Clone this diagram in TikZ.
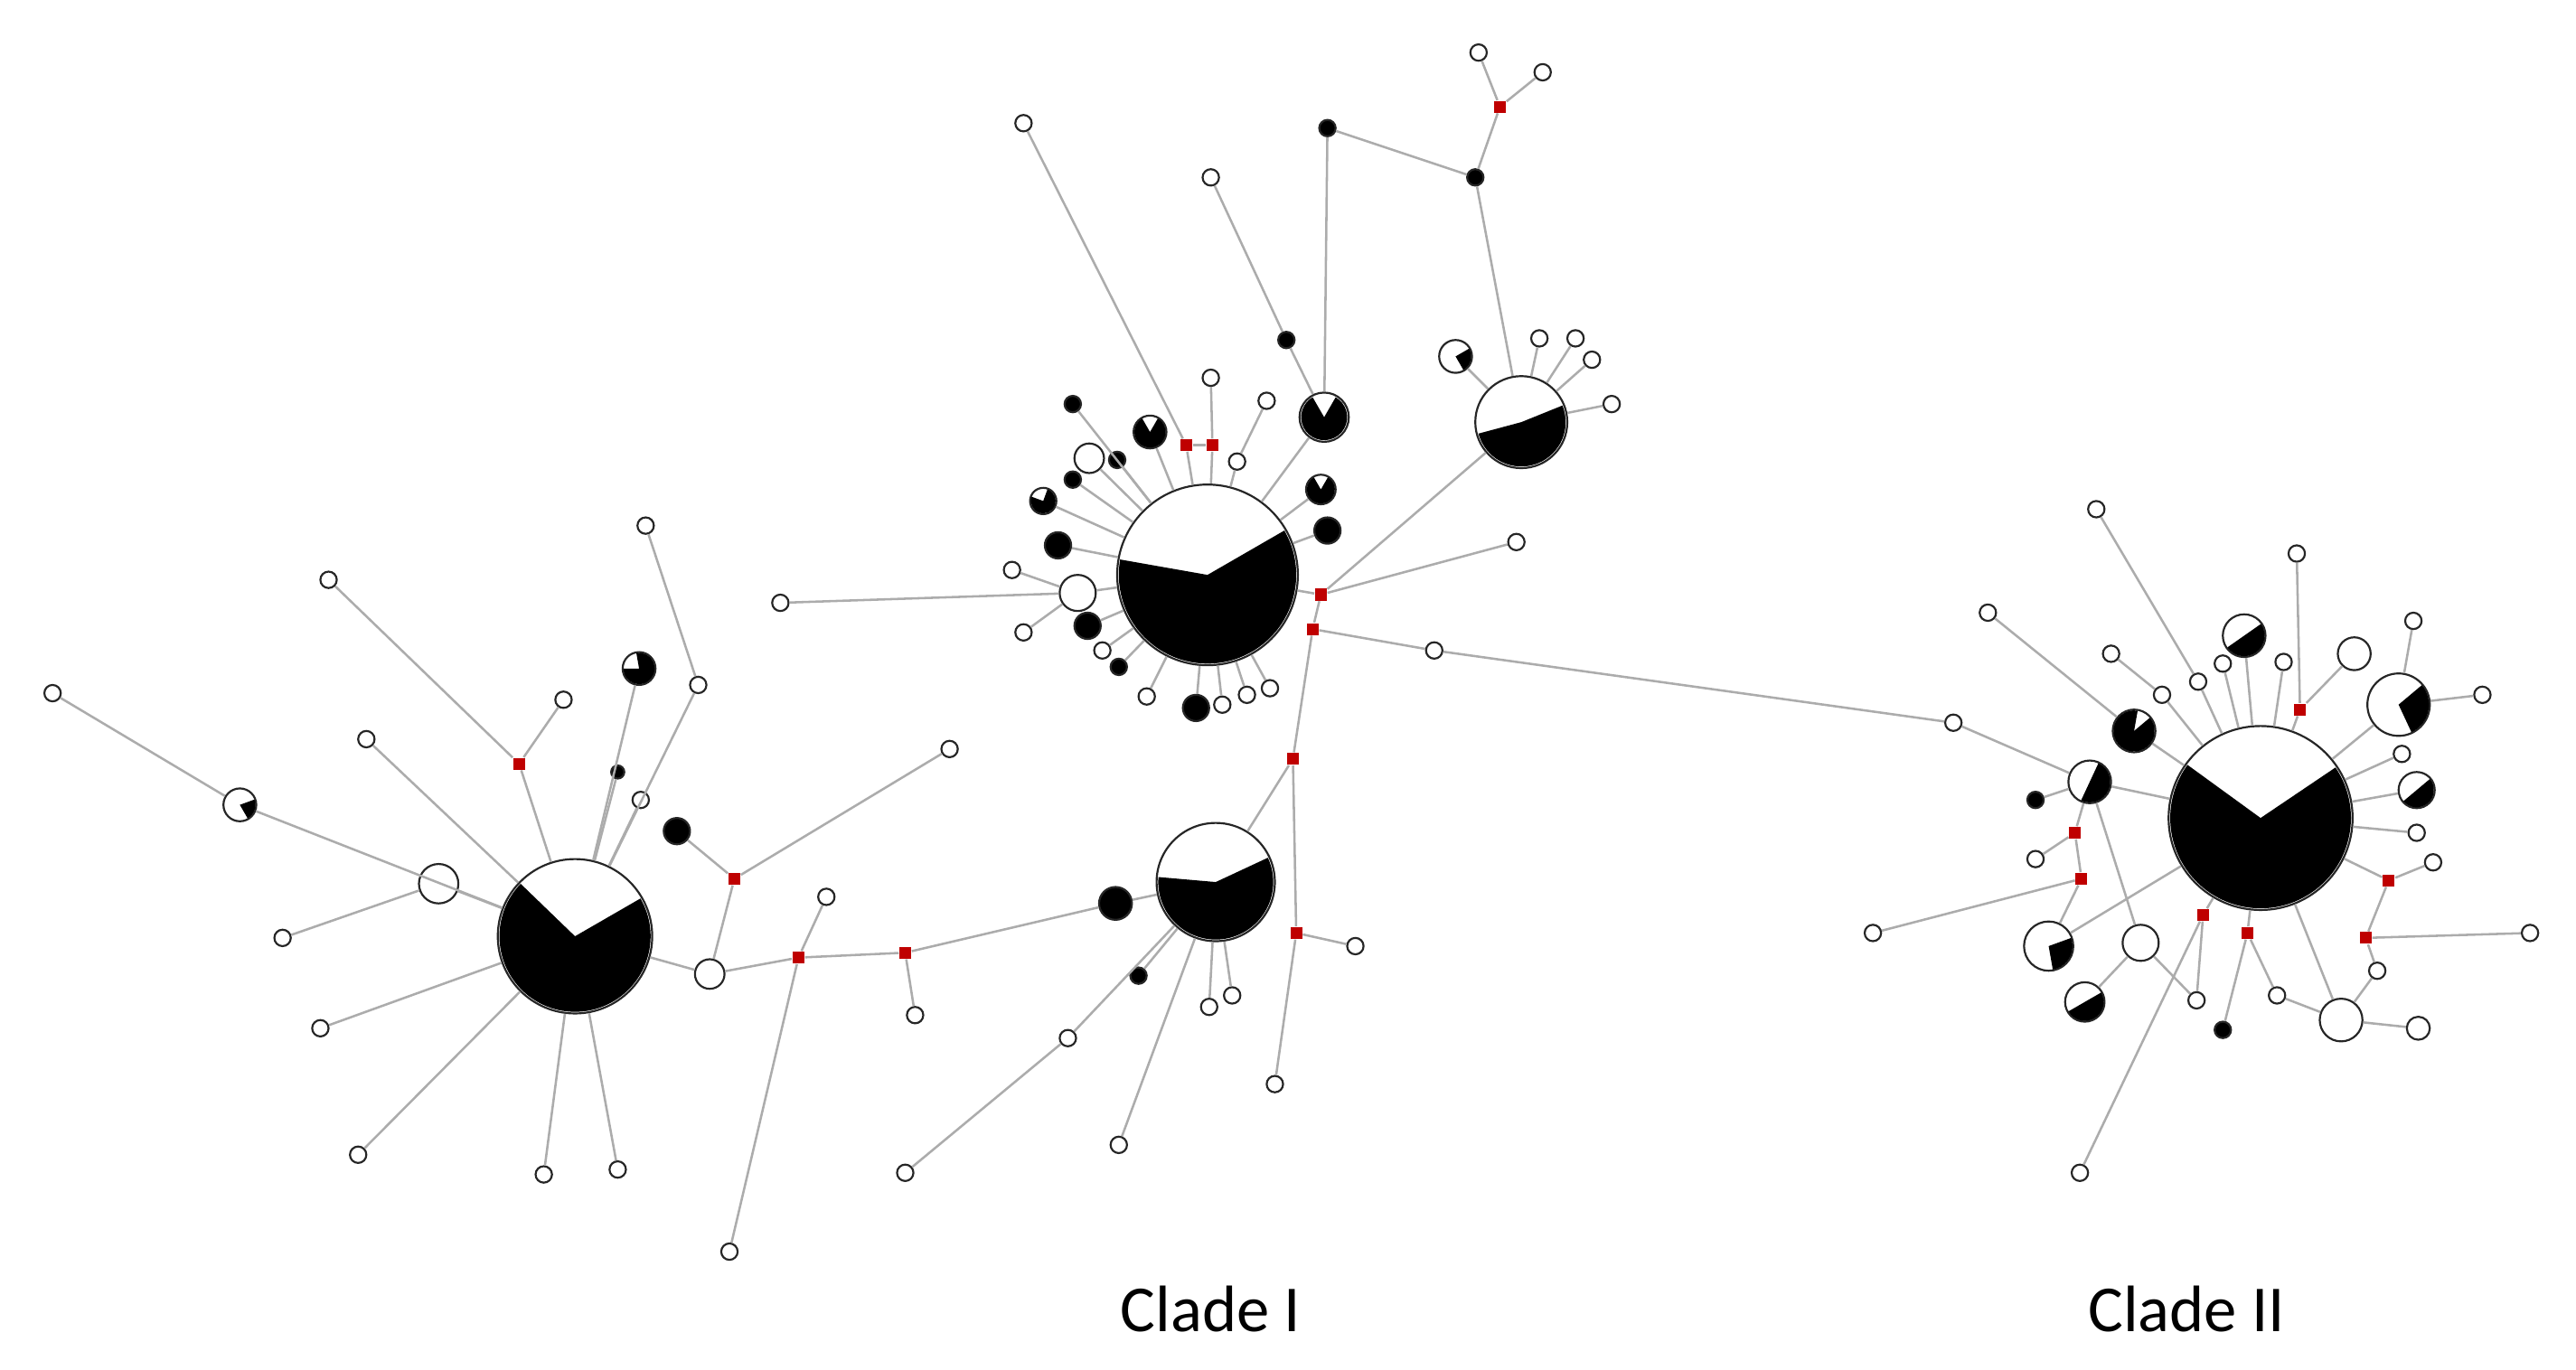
\documentclass[tikz,border=0pt]{standalone}
\usepackage{fontspec}
\setmainfont{Carlito}
\usetikzlibrary{positioning}

% black sector of a haplotype pie, clockwise from angle #2 to #3
\newcommand\hpie[4]{\fill (#1.center) -- ++(-#2:#4) arc[start angle=-#2, end angle=-#3, radius=#4] -- cycle;}

\begin{document}
\begin{tikzpicture}[x=0.5pt, y=-0.5pt,
 hap/.style  = {circle, draw=black!85, line width=0.6pt, fill=white, inner sep=0pt, minimum size=5pt},
 bhap/.style = {hap, fill=black},
 med/.style  = {rectangle, fill=red!75!black, inner sep=0pt, minimum size=3.6pt},
 edge/.style = {draw=gray!65, line width=0.7pt},
 clade/.style = {font=\fontsize{20}{24}\selectfont},
                        ]
    \useasboundingbox (0,0) rectangle (1568,834);

    % left part of clade I
    \node [hap, minimum size=47pt]   (l0)  at (350,570) {};
    \node [hap, minimum size=10pt]   (l1)  at (146,490) {};
    \node [hap]                      (l1t) at (32,422)  {};
    \node [med]                      (lr1) at (316,465) {};
    \node [hap]                      (l2)  at (200,353) {};
    \node [hap]                      (l3)  at (343,426) {};
    \node [hap]                      (l4)  at (223,450) {};
    \node [hap, minimum size=12pt]   (l5)  at (267,538) {};
    \node [hap]                      (l6)  at (172,571) {};
    \node [hap]                      (l7)  at (195,626) {};
    \node [hap]                      (l8)  at (218,703) {};
    \node [hap]                      (l9)  at (331,715) {};
    \node [hap]                      (l10) at (376,712) {};
    \node [hap]                      (l11) at (393,320) {};
    \node [hap]                      (l12) at (425,417) {};
    \node [hap, minimum size=10pt]   (l13) at (389,407) {};
    \node [bhap, minimum size=4pt]   (l14) at (376,470) {};
    \node [hap]                      (l15) at (390,487) {};
    \node [bhap, minimum size=8pt]   (l16) at (412,506) {};
    \node [med]                      (lr2) at (447,535) {};
    \node [hap]                      (l17) at (578,456) {};
    \node [hap, minimum size=9pt]    (l18) at (432,593) {};
    \node [med]                      (lr3) at (486,583) {};
    \node [hap]                      (l19) at (503,546) {};
    \node [hap]                      (l20) at (444,762) {};
    \node [med]                      (lr4) at (551,580) {};
    \node [hap]                      (l21) at (557,618) {};
    \node [bhap, minimum size=10pt]  (l22) at (679,550) {};

    % lower middle part
    \node [hap, minimum size=36pt]   (c2)  at (740,537) {};
    \node [bhap, minimum size=5pt]   (k1)  at (693,594) {};
    \node [hap]                      (k2)  at (650,632) {};
    \node [hap]                      (k3)  at (551,714) {};
    \node [hap]                      (k4)  at (681,697) {};
    \node [hap]                      (k5)  at (736,613) {};
    \node [hap]                      (k6)  at (750,606) {};
    \node [med]                      (kr1) at (787,462) {};
    \node [med]                      (kr2) at (789,568) {};
    \node [hap]                      (k7)  at (825,576) {};
    \node [hap]                      (k8)  at (776,660) {};

    % main haplotype of clade I
    \node [hap, minimum size=55pt]   (c1)  at (735,350) {};
    \node [med]                      (mr1) at (804,362) {};
    \node [med]                      (mr2) at (799,383) {};
    \node [hap]                      (m1)  at (923,330) {};
    \node [hap]                      (m2)  at (873,396) {};
    \node [hap]                      (m3)  at (1189,440) {};
    \node [hap]                      (m4)  at (475,367) {};
    \node [hap, minimum size=11pt]   (m5)  at (656,361) {};
    \node [hap]                      (m6)  at (616,347) {};
    \node [hap]                      (m7)  at (623,385) {};
    \node [hap]                      (m8)  at (623,75)  {};
    \node [med]                      (mr3) at (722,271) {};
    \node [med]                      (mr4) at (738,271) {};
    \node [hap]                      (m9)  at (737,230) {};
    \node [hap]                      (m10) at (737,108) {};
    \node [bhap, minimum size=5pt]   (m11) at (783,207) {};
    \node [hap, minimum size=15pt]   (m12) at (806,254) {};
    \node [bhap, minimum size=5pt]   (m13) at (808,78)  {};
    \node [bhap, minimum size=5pt]   (m14) at (898,108) {};
    \node [med]                      (mr5) at (913,65)  {};
    \node [hap]                      (m15) at (900,32)  {};
    \node [hap]                      (m16) at (939,44)  {};
    \node [hap]                      (m17) at (771,244) {};
    \node [hap]                      (m18) at (753,281) {};
    \node [hap, minimum size=9pt]    (m19) at (804,298) {};
    \node [bhap, minimum size=8pt]   (m20) at (808,323) {};
    \node [hap, minimum size=10pt]   (m21) at (700,263) {};
    \node [bhap, minimum size=5pt]   (m22) at (653,246) {};
    \node [hap, minimum size=9pt]    (m23) at (663,279) {};
    \node [bhap, minimum size=5pt]   (m24) at (680,280) {};
    \node [bhap, minimum size=5pt]   (m25) at (653,292) {};
    \node [hap, minimum size=8pt]    (m26) at (635,305) {};
    \node [bhap, minimum size=8pt]   (m27) at (644,332) {};
    \node [bhap, minimum size=8pt]   (m28) at (662,381) {};
    \node [hap]                      (m29) at (671,396) {};
    \node [bhap, minimum size=5pt]   (m30) at (681,406) {};
    \node [hap]                      (m31) at (698,424) {};
    \node [bhap, minimum size=8pt]   (m32) at (728,431) {};
    \node [hap]                      (m33) at (744,429) {};
    \node [hap]                      (m34) at (759,423) {};
    \node [hap]                      (m35) at (773,419) {};

    % upper right part of clade I
    \node [hap, minimum size=28pt]   (c3)  at (926,257) {};
    \node [hap, minimum size=10pt]   (n1)  at (886,217) {};
    \node [hap]                      (n2)  at (937,206) {};
    \node [hap]                      (n3)  at (959,206) {};
    \node [hap]                      (n4)  at (969,219) {};
    \node [hap]                      (n5)  at (981,246) {};

    % clade II
    \node [hap, minimum size=56pt]   (c4)  at (1376,498) {};
    \node [hap, minimum size=13pt]   (p1)  at (1299,445) {};
    \node [hap, minimum size=13pt]   (p2)  at (1272,476) {};
    \node [bhap, minimum size=5pt]   (q1)  at (1239,487) {};
    \node [med]                      (pr1) at (1263,507) {};
    \node [hap]                      (q2)  at (1239,523) {};
    \node [med]                      (pr2) at (1267,535) {};
    \node [hap]                      (q3)  at (1140,568) {};
    \node [hap, minimum size=15pt]   (p3)  at (1247,576) {};
    \node [hap, minimum size=11pt]   (q4)  at (1303,574) {};
    \node [hap, minimum size=12pt]   (p4)  at (1269,610) {};
    \node [med]                      (pr3) at (1341,557) {};
    \node [med]                      (pr4) at (1368,568) {};
    \node [bhap, minimum size=5pt]   (q5)  at (1353,627) {};
    \node [hap]                      (q6)  at (1337,609) {};
    \node [hap]                      (q7)  at (1266,714) {};
    \node [hap]                      (q8)  at (1386,606) {};
    \node [hap, minimum size=13pt]   (q9)  at (1425,621) {};
    \node [hap, minimum size=7pt]    (q10) at (1472,626) {};
    \node [hap]                      (q11) at (1447,591) {};
    \node [med]                      (pr5) at (1440,571) {};
    \node [hap]                      (q12) at (1540,568) {};
    \node [med]                      (pr6) at (1454,536) {};
    \node [hap]                      (q13) at (1481,525) {};
    \node [hap]                      (q14) at (1471,507) {};
    \node [hap, minimum size=11pt]   (p5)  at (1471,481) {};
    \node [hap]                      (q15) at (1462,459) {};
    \node [hap, minimum size=19pt]   (p6)  at (1460,429) {};
    \node [hap]                      (q16) at (1511,423) {};
    \node [hap]                      (q17) at (1469,378) {};
    \node [hap, minimum size=10pt]   (q18) at (1433,398) {};
    \node [med]                      (pr7) at (1400,432) {};
    \node [hap]                      (q19) at (1398,337) {};
    \node [hap]                      (q20) at (1390,403) {};
    \node [hap, minimum size=13pt]   (p7)  at (1366,387) {};
    \node [hap]                      (q21) at (1353,404) {};
    \node [hap]                      (q22) at (1338,415) {};
    \node [hap]                      (q23) at (1276,310) {};
    \node [hap]                      (q24) at (1316,423) {};
    \node [hap]                      (q25) at (1285,398) {};
    \node [hap]                      (q26) at (1210,373) {};

    \foreach \a/\b in {l1t/l1, l1/l0, l2/lr1, l3/lr1, lr1/l0, l4/l0, l6/l5, l5/l0,
        l7/l0, l8/l0, l9/l0, l10/l0, l11/l12, l12/l0, l13/l0, l14/l0, l15/l0,
        l16/lr2, l17/lr2, lr2/l18, l18/l0, l18/lr3, lr3/l19, lr3/l20, lr3/lr4,
        lr4/l21, lr4/l22, l22/c2,
        k1/c2, k2/c2, k3/k2, k4/c2, k5/c2, k6/c2, c2/kr1, kr1/mr2, kr1/kr2,
        kr2/k7, kr2/k8,
        mr1/c1, mr1/mr2, mr1/m1, mr1/c3, mr2/m2, m2/m3, m3/p2, m4/m5, m6/m5,
        m7/m5, m5/c1, m8/mr3, mr3/mr4, mr3/c1, mr4/c1, m9/mr4, m10/m11,
        m11/m12, m12/c1, m13/m12, m13/m14, m14/mr5, mr5/m15, mr5/m16, m14/c3,
        m17/m18, m18/c1, m19/c1, m20/c1, m21/c1, m22/c1, m23/c1, m24/c1,
        m25/c1, m26/c1, m27/c1, m28/c1, m29/c1, m30/c1, m31/c1, m32/c1,
        m33/c1, m34/c1, m35/c1,
        n1/c3, n2/c3, n3/c3, n4/c3, n5/c3,
        p1/c4, p1/q26, p2/c4, p2/q1, p2/pr1, pr1/q2, pr1/pr2, pr2/q3, pr2/p3,
        p3/c4, p2/q4, p4/q4, q4/q6, q6/pr3, pr3/c4, pr3/q7, pr4/c4, pr4/q5,
        pr4/q8, q8/q9, q9/c4, q9/q10, q9/q11, q11/pr5, pr5/q12, pr5/pr6,
        pr6/c4, pr6/q13, q14/c4, p5/c4, q15/c4, p6/c4, p6/q16, p6/q17,
        q18/pr7, pr7/c4, pr7/q19, q20/c4, p7/c4, q21/c4, q22/c4, q22/q23,
        q24/c4, q24/q25}
        \draw[edge] (\a) -- (\b);

    % black parts of the pies
    \hpie{l0}{30}{-224}{46}
    \hpie{l1}{20}{-60}{9.5}
    \hpie{l13}{100}{-180}{9.5}
    \hpie{c2}{25}{-185}{35}
    \hpie{c1}{30}{-190}{54}
    \hpie{m12}{60}{-240}{14}
    \hpie{m19}{60}{-240}{8.5}
    \hpie{m21}{60}{-240}{9.5}
    \hpie{m26}{70}{-200}{7.5}
    \hpie{c3}{22}{-165}{27}
    \hpie{n1}{30}{-60}{9.5}
    \hpie{c4}{34}{-216}{55}
    \hpie{p1}{40}{-280}{12.5}
    \hpie{p2}{65}{-115}{12.5}
    \hpie{p3}{20}{-80}{14.5}
    \hpie{p4}{30}{-150}{11.5}
    \hpie{p5}{40}{-140}{10.5}
    \hpie{p6}{40}{-65}{18.5}
    \hpie{p7}{35}{-145}{12.5}

    \node [clade] (cl1) at (737,797) {Clade I};
    \node [clade] (cl2) at (1331,797) {Clade II};
\end{tikzpicture}
\end{document}
